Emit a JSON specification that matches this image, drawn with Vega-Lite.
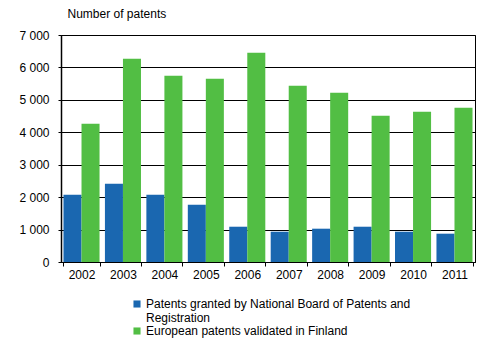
{
  "$schema": "https://vega.github.io/schema/vega-lite/v6.json",
  "width": 414,
  "height": 227,
  "autosize": {"type": "none"},
  "padding": {"left": 61, "top": 35, "right": 18, "bottom": 101},
  "background": "white",
  "data": {
    "values": [
      {"year": "2002", "series": "Patents granted by National Board of Patents and Registration", "value": 2075},
      {"year": "2003", "series": "Patents granted by National Board of Patents and Registration", "value": 2414},
      {"year": "2004", "series": "Patents granted by National Board of Patents and Registration", "value": 2075},
      {"year": "2005", "series": "Patents granted by National Board of Patents and Registration", "value": 1767},
      {"year": "2006", "series": "Patents granted by National Board of Patents and Registration", "value": 1088},
      {"year": "2007", "series": "Patents granted by National Board of Patents and Registration", "value": 934},
      {"year": "2008", "series": "Patents granted by National Board of Patents and Registration", "value": 1027},
      {"year": "2009", "series": "Patents granted by National Board of Patents and Registration", "value": 1088},
      {"year": "2010", "series": "Patents granted by National Board of Patents and Registration", "value": 934},
      {"year": "2011", "series": "Patents granted by National Board of Patents and Registration", "value": 873},
      {"year": "2002", "series": "European patents validated in Finland", "value": 4265},
      {"year": "2003", "series": "European patents validated in Finland", "value": 6270},
      {"year": "2004", "series": "European patents validated in Finland", "value": 5745},
      {"year": "2005", "series": "European patents validated in Finland", "value": 5652},
      {"year": "2006", "series": "European patents validated in Finland", "value": 6454},
      {"year": "2007", "series": "European patents validated in Finland", "value": 5436},
      {"year": "2008", "series": "European patents validated in Finland", "value": 5220},
      {"year": "2009", "series": "European patents validated in Finland", "value": 4511},
      {"year": "2010", "series": "European patents validated in Finland", "value": 4635},
      {"year": "2011", "series": "European patents validated in Finland", "value": 4758}
    ]
  },
  "config": {
    "font": "Liberation Sans",
    "view": {"stroke": "black", "strokeWidth": 1}
  },
  "mark": {"type": "bar"},
  "encoding": {
    "x": {
      "field": "year",
      "type": "nominal",
      "scale": {"paddingInner": 0.13, "paddingOuter": 0.06},
      "axis": {
        "title": null,
        "labelAngle": 0,
        "labelFont": "Liberation Sans",
        "labelFontSize": 12,
        "labelColor": "black",
        "domainColor": "black",
        "tickColor": "black",
        "tickBand": "extent",
        "tickSize": 4,
        "labelPadding": 3
      }
    },
    "xOffset": {
      "field": "series",
      "type": "nominal",
      "sort": ["Patents granted by National Board of Patents and Registration", "European patents validated in Finland"],
      "scale": {"paddingInner": 0, "paddingOuter": 0}
    },
    "y": {
      "field": "value",
      "type": "quantitative",
      "scale": {"domain": [0, 7000], "nice": false},
      "axis": {
        "title": "Number of patents",
        "titleAngle": 0,
        "titleAlign": "left",
        "titleBaseline": "bottom",
        "titleX": 6,
        "titleY": -15,
        "titleFont": "Liberation Sans",
        "titleFontSize": 12,
        "titleFontWeight": "normal",
        "titleColor": "black",
        "values": [0, 1000, 2000, 3000, 4000, 5000, 6000, 7000],
        "labelExpr": "replace(format(datum.value, ','), ',', ' ')",
        "labelFont": "Liberation Sans",
        "labelFontSize": 12,
        "labelColor": "black",
        "grid": true,
        "gridColor": "black",
        "gridOpacity": 1,
        "domainColor": "black",
        "domainWidth": 1.5,
        "tickColor": "black",
        "tickSize": 3,
        "labelPadding": 9
      }
    },
    "color": {
      "field": "series",
      "type": "nominal",
      "scale": {
        "domain": ["Patents granted by National Board of Patents and Registration", "European patents validated in Finland"],
        "range": ["#1a67b0", "#52be44"]
      },
      "legend": {
        "title": null,
        "orient": "none",
        "legendX": 70,
        "legendY": 263,
        "symbolType": "square",
        "symbolSize": 50,
        "symbolStrokeWidth": 0,
        "labelFont": "Liberation Sans",
        "labelFontSize": 12,
        "labelColor": "black",
        "labelLimit": 400,
        "rowPadding": 1,
        "labelOffset": 3,
        "labelExpr": "datum.label == 'Patents granted by National Board of Patents and Registration' ? ['Patents granted by National Board of Patents and', 'Registration'] : datum.label"
      }
    }
  }
}
